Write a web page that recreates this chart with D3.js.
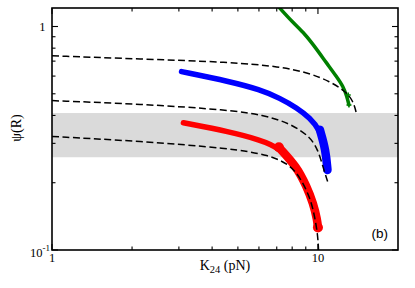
<!DOCTYPE html>
<html><head><meta charset="utf-8">
<script src="https://cdn.jsdelivr.net/npm/d3@7"></script>
<style>body{margin:0;background:#fff}svg{display:block}</style>
</head><body>
<svg id="chart" width="415" height="288"></svg>
<script>
// ---- data ----
const xDomain = [1, 20];
const yDomain = [0.1, 1.21];
const xMajorTicks = [1, 10];
const xMinorTicks = [2, 3, 4, 5, 6, 7, 8, 9];
const xTickLabels = ["1", "10"];
const yMajorTicks = [0.1, 1];
const yMinorTicks = [0.2, 0.3, 0.4, 0.5, 0.6, 0.7, 0.8, 0.9];
const bandRange = [0.26, 0.41];

const dash1K   = [1, 2.14, 4.67, 7.2, 9.33, 11.1, 12.64, 13.57, 13.98];
const dash1Psi = [0.739, 0.716, 0.693, 0.662, 0.618, 0.567, 0.515, 0.466, 0.405];
const dash2K   = [1, 2.14, 4.67, 6.21, 7.85, 9.33, 10, 10.44, 10.88];
const dash2Psi = [0.466, 0.45, 0.423, 0.402, 0.369, 0.322, 0.281, 0.236, 0.202];
const dash3K   = [1, 2.14, 4.67, 6.6, 7.85, 8.55, 9.33, 9.73, 9.99, 10.05];
const dash3Psi = [0.322, 0.307, 0.285, 0.266, 0.24, 0.212, 0.173, 0.141, 0.116, 0.1];

const blueK   = [3.07, 4.67, 6.05, 7.2, 8.34, 9.33, 10.17, 10.69, 10.86];
const bluePsi = [0.628, 0.567, 0.522, 0.478, 0.432, 0.39, 0.345, 0.281, 0.228];
const blueThickFrom = 10.0;

const redK   = [3.12, 4.67, 6.05, 7.13, 8.32, 9.07, 9.6, 9.94, 10.0];
const redPsi = [0.371, 0.338, 0.311, 0.288, 0.236, 0.192, 0.162, 0.136, 0.126];
const redThickFrom = 7.13;
const redDotK   = [7.13, 10.0];
const redDotPsi = [0.288, 0.126];

const greenK   = [7.0, 8.08, 8.93, 9.74, 10.78, 11.75, 12.45, 12.85, 13.08];
const greenPsi = [1.25, 1.036, 0.927, 0.811, 0.686, 0.597, 0.539, 0.486, 0.446];
const greenMarkK   = [13.0, 13.08];
const greenMarkPsi = [0.494, 0.446];

// ---- layout ----
const L = 52, T = 8, R = 398, B = 250;
const svg = d3.select("#chart");
const x = d3.scaleLog().domain(xDomain).range([L, R]);
const y = d3.scaleLog().domain(yDomain).range([B, T]);
const serif = "Liberation Serif, Times New Roman, serif";

svg.append("defs").append("clipPath").attr("id", "clip")
  .append("rect").attr("x", L).attr("y", T).attr("width", R - L).attr("height", B - T);

const plot = svg.append("g").attr("clip-path", "url(#clip)");

// gray band
plot.append("rect")
  .attr("x", L).attr("width", R - L)
  .attr("y", y(bandRange[1])).attr("height", y(bandRange[0]) - y(bandRange[1]))
  .attr("fill", "#dadada");

const zip = (K, P) => K.map((k, i) => [k, P[i]]);
const line = d3.line().x(d => x(d[0])).y(d => y(d[1])).curve(d3.curveBasis);

function thick(K, P, color, w, from, w2) {
  const pts = zip(K, P);
  plot.append("path").attr("d", line(pts)).attr("fill", "none")
    .attr("stroke", color).attr("stroke-width", w).attr("stroke-linecap", "round");
  if (from != null) {
    plot.append("path").attr("d", line(pts.filter(d => d[0] >= from))).attr("fill", "none")
      .attr("stroke", color).attr("stroke-width", w2).attr("stroke-linecap", "round");
  }
}

thick(greenK, greenPsi, "#008000", 3.5);
plot.selectAll(".gm").data(zip(greenMarkK, greenMarkPsi)).enter().append("path")
  .attr("d", d => { const cx = x(d[0]), cy = y(d[1]); return `M${cx-2.5},${cy}H${cx+2.5}M${cx},${cy-2.5}V${cy+2.5}`; })
  .attr("stroke", "#008000").attr("stroke-width", 1.5);

thick(blueK, bluePsi, "#0000ff", 5.5, blueThickFrom, 8.5);
thick(redK, redPsi, "#ff0000", 5.5, redThickFrom, 8.5);
plot.selectAll(".rd").data(zip(redDotK, redDotPsi)).enter().append("circle")
  .attr("cx", d => x(d[0])).attr("cy", d => y(d[1])).attr("r", 5).attr("fill", "#ff0000");

[[dash1K, dash1Psi], [dash2K, dash2Psi], [dash3K, dash3Psi]].forEach(([K, P]) => {
  plot.append("path").attr("d", line(zip(K, P))).attr("fill", "none")
    .attr("stroke", "#000").attr("stroke-width", 1.5).attr("stroke-dasharray", "7,3.5");
});

// frame
svg.append("rect").attr("x", L).attr("y", T).attr("width", R - L).attr("height", B - T)
  .attr("fill", "none").attr("stroke", "#000").attr("stroke-width", 1.6);

// ticks
const tk = svg.append("g").attr("stroke", "#000").attr("stroke-width", 1.1);
function xt(v, len) {
  tk.append("line").attr("x1", x(v)).attr("x2", x(v)).attr("y1", B).attr("y2", B - len);
  tk.append("line").attr("x1", x(v)).attr("x2", x(v)).attr("y1", T).attr("y2", T + len);
}
function yt(v, len) {
  tk.append("line").attr("y1", y(v)).attr("y2", y(v)).attr("x1", L).attr("x2", L + len);
  tk.append("line").attr("y1", y(v)).attr("y2", y(v)).attr("x1", R).attr("x2", R - len);
}
xMajorTicks.forEach(v => xt(v, 6));
xMinorTicks.forEach(v => xt(v, 3.5));
yMajorTicks.forEach(v => yt(v, 6));
yMinorTicks.forEach(v => yt(v, 3.5));

// tick labels
xMajorTicks.forEach((v, i) => {
  svg.append("text").attr("x", x(v)).attr("y", 262).attr("text-anchor", "middle")
    .attr("font-family", serif).attr("font-size", 12.5).text(xTickLabels[i]);
});
svg.append("text").attr("x", 45.5).attr("y", y(1) + 4.5).attr("text-anchor", "end")
  .attr("font-family", serif).attr("font-size", 12.5).text("1");
const t01 = svg.append("text").attr("x", 50).attr("y", 257).attr("text-anchor", "end")
  .attr("font-family", serif).attr("font-size", 12.5);
t01.append("tspan").text("10");
t01.append("tspan").attr("font-size", 9).attr("dy", -6).text("-1");

// axis titles
const xl = svg.append("text").attr("x", 225).attr("y", 270).attr("text-anchor", "middle")
  .attr("font-family", serif).attr("font-size", 14);
xl.append("tspan").text("K");
xl.append("tspan").attr("font-size", 10.5).attr("dy", 3).text("24");
xl.append("tspan").attr("dy", -3).text(" (pN)");

svg.append("text").attr("transform", "translate(21,128) rotate(-90)").attr("text-anchor", "middle")
  .attr("font-family", serif).attr("font-size", 14).text("ψ(R)");

svg.append("text").attr("x", 388).attr("y", 238).attr("text-anchor", "end")
  .attr("font-family", "Liberation Sans, Arial, sans-serif").attr("font-size", 13.5).text("(b)");
</script>
</body></html>
